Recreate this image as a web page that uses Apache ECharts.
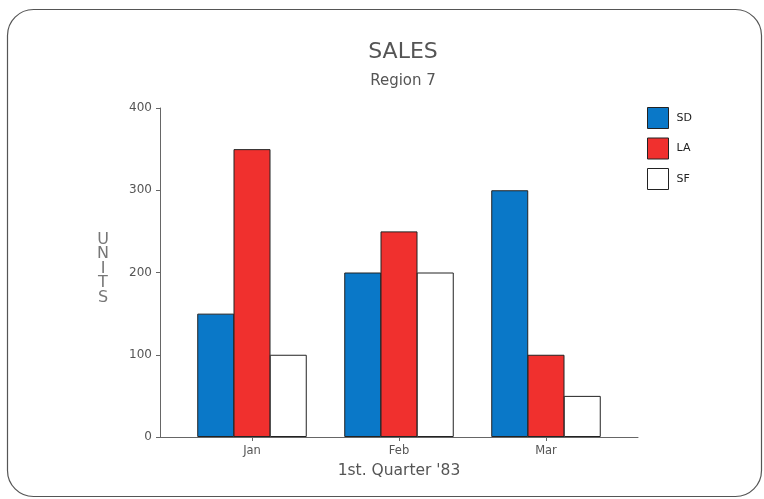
<!DOCTYPE html>
<html><head><meta charset="utf-8">
<script src="https://cdn.jsdelivr.net/npm/echarts@6/dist/echarts.min.js"></script>
<style>html,body{margin:0;padding:0;background:#fff}#c{width:764px;height:499px}</style>
</head><body><div id="c"></div>
<script>
const categories = ['Jan', 'Feb', 'Mar'];
const seriesNames = ['SD', 'LA', 'SF'];
const sdValues = [150, 200, 300];
const laValues = [350, 250, 100];
const sfValues = [100, 200, 50];
const yTicks = [0, 100, 200, 300, 400];

const colors = ['#0a78c8', '#f0302e', '#ffffff'];
const font = 'DejaVu Sans';
const chart = echarts.init(document.getElementById('c'));
const gridTop = 108, gridBottom = 62;
chart.setOption({
  animation: false,
  textStyle: { fontFamily: font },
  graphic: [{
    type: 'rect', z: -1,
    shape: { x: 7.5, y: 9.5, width: 754, height: 487, r: 26 },
    style: { fill: '#fff', stroke: '#555', lineWidth: 1.2 }
  }],
  title: [{
    text: 'SALES', left: 398, textAlign: 'center', top: 36,
    textStyle: { fontSize: 22, fontWeight: 'normal', color: '#555', fontFamily: font }
  }, {
    text: 'Region 7', left: 398, textAlign: 'center', top: 69,
    textStyle: { fontSize: 15, fontWeight: 'normal', color: '#555', fontFamily: font }
  }],
  legend: {
    orient: 'vertical', left: 647, top: 107, padding: 0,
    itemWidth: 21, itemHeight: 21, itemGap: 8.5,
    icon: 'rect',
    data: seriesNames,
    textStyle: { fontSize: 11, color: '#222', fontFamily: font, padding: [0, 0, 0, 3] },
    itemStyle: { borderColor: '#222', borderWidth: 1 }
  },
  grid: [
    { left: 160, right: 126, top: gridTop, bottom: gridBottom },
    { left: 178.5, right: 144.5, top: gridTop, bottom: gridBottom }
  ],
  xAxis: [{
    gridIndex: 0, type: 'value', min: 0, max: 1,
    axisLine: { show: true, lineStyle: { color: '#666', width: 1 } },
    axisTick: { show: false }, axisLabel: { show: false }, splitLine: { show: false },
    name: "1st. Quarter '83", nameLocation: 'middle', nameGap: 26,
    nameTextStyle: { fontSize: 15.5, color: '#555', fontFamily: font }
  }, {
    gridIndex: 1, type: 'category', data: categories,
    axisLine: { show: false },
    axisTick: { show: true, alignWithLabel: true, length: 4, lineStyle: { color: '#666' } },
    axisLabel: { fontSize: 11.5, color: '#555', margin: 8 }
  }],
  yAxis: [{
    gridIndex: 0, type: 'value', min: 0, max: 400, interval: 100,
    axisLine: { show: true, lineStyle: { color: '#666', width: 1 } },
    axisTick: { show: true, length: 4, lineStyle: { color: '#666' } },
    axisLabel: { fontSize: 12, color: '#555', margin: 8,
      formatter: v => yTicks.includes(v) ? String(v) : '' },
    splitLine: { show: false },
    name: '{u|U}\n{u|N}\n{u|I}\n{u|T}\n{u|S}\n{s|}', nameLocation: 'middle', nameRotate: 0, nameGap: 57,
    nameTextStyle: { align: 'center',
      rich: { u: { fontSize: 16, color: '#777', lineHeight: 14.5, fontFamily: font, align: 'center' },
              s: { fontSize: 1, lineHeight: 8 } } }
  }, {
    gridIndex: 1, type: 'value', min: 0, max: 400, interval: 100, show: false
  }],
  series: [sdValues, laValues, sfValues].map((vals, i) => ({
    name: seriesNames[i], type: 'bar', xAxisIndex: 1, yAxisIndex: 1,
    data: vals, barGap: '-2%', barWidth: 37,
    itemStyle: { color: colors[i], borderColor: '#222', borderWidth: 1 }
  }))
});
</script></body></html>
